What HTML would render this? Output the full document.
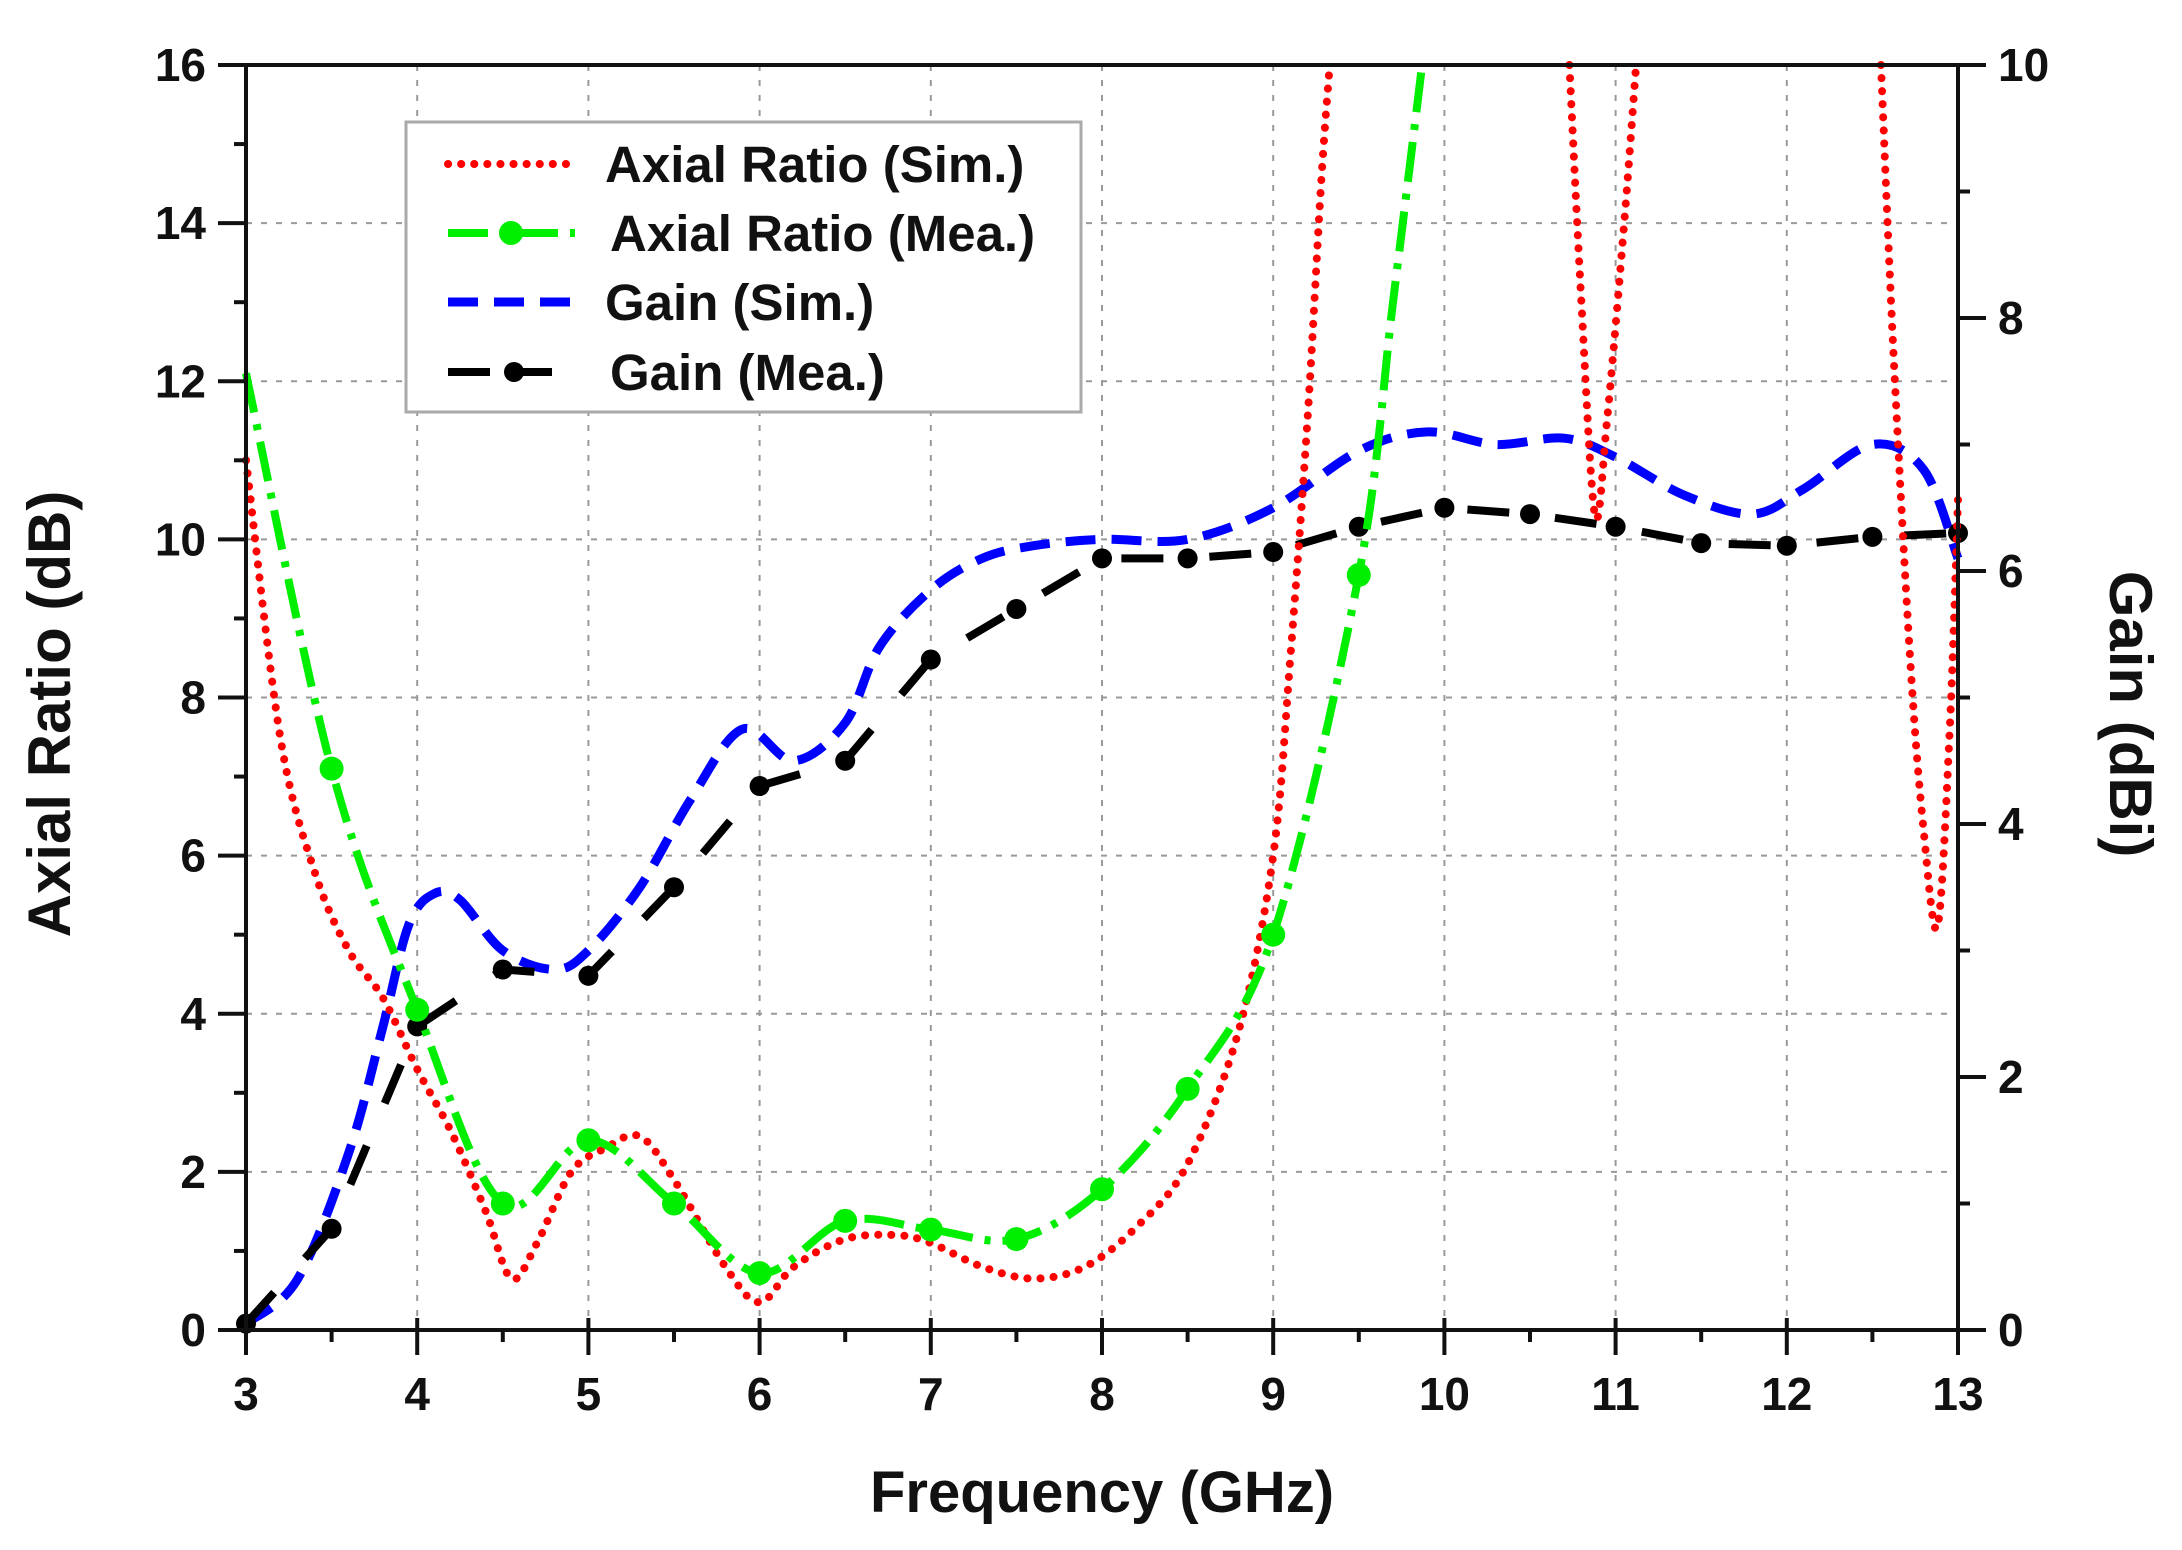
<!DOCTYPE html><html><head><meta charset="utf-8"><style>html,body{margin:0;padding:0;background:#fff}svg{display:block}text{font-family:"Liberation Sans",Arial,sans-serif;font-weight:bold;fill:#111}</style></head><body>
<svg id="s" width="2182" height="1550" viewBox="0 0 2182 1550" xmlns="http://www.w3.org/2000/svg">
<g id="grid" stroke="#999" stroke-width="2" stroke-dasharray="6 9"></g>
<g id="series"></g>
<g id="axes" stroke="#111" stroke-width="4" fill="none"></g>
<g id="labels" font-size="46"></g>
<text x="1102" y="1512" font-size="58" text-anchor="middle">Frequency (GHz)</text>
<text transform="translate(70,714) rotate(-90)" font-size="60" text-anchor="middle">Axial Ratio (dB)</text>
<text transform="translate(2110,714) rotate(90)" font-size="60" text-anchor="middle">Gain (dBi)</text>
<g id="legend"></g>
</svg>
<script>
var L=246,R=1958,T=65,B=1330;
function X(f){return L+(f-3)*(R-L)/10}
function YA(a){return B-a*(B-T)/16}
function YG(g){return B-g*(B-T)/10}
var NS="http://www.w3.org/2000/svg";
function el(p,n,a,t){var e=document.createElementNS(NS,n);for(var k in a)e.setAttribute(k,a[k]);if(t!=null)e.textContent=t;document.getElementById(p).appendChild(e);return e}
for(var f=4;f<13;f++)el("grid","line",{x1:X(f),x2:X(f),y1:T,y2:B});
for(var a=2;a<16;a+=2)el("grid","line",{x1:L,x2:R,y1:YA(a),y2:YA(a)});
el("axes","rect",{x:L,y:T,width:R-L,height:B-T});
for(var f=3;f<=13;f+=0.5){var maj=(f%1==0);el("axes","line",{x1:X(f),x2:X(f),y1:B,y2:B+(maj?25:12)});if(maj){el("axes","line",{x1:X(f),x2:X(f),y1:B,y2:B-12});el("labels","text",{x:X(f),y:B+80,"text-anchor":"middle"},f);}}
for(var a=0;a<=16;a+=1){var maj=(a%2==0);el("axes","line",{x1:L,x2:L-(maj?28:12),y1:YA(a),y2:YA(a)});if(maj)el("labels","text",{x:L-40,y:YA(a)+16,"text-anchor":"end"},a);}
for(var g=0;g<=10;g+=1){var maj=(g%2==0);el("axes","line",{x1:R,x2:R+(maj?28:12),y1:YG(g),y2:YG(g)});if(maj)el("labels","text",{x:R+40,y:YG(g)+16,"text-anchor":"start"},g);}
function path(pts,Y){var d="";pts.forEach(function(p,i){d+=(i?"L":"M")+X(p[0]).toFixed(1)+" "+Y(p[1]).toFixed(1)});return d}
function smooth(pts,Y){var P=pts.map(function(p){return[X(p[0]),Y(p[1])]});var d="M"+P[0][0]+" "+P[0][1];for(var i=0;i<P.length-1;i++){var p0=P[i-1]||P[i],p1=P[i],p2=P[i+1],p3=P[i+2]||p2;d+="C"+(p1[0]+(p2[0]-p0[0])/6).toFixed(1)+" "+(p1[1]+(p2[1]-p0[1])/6).toFixed(1)+" "+(p2[0]-(p3[0]-p1[0])/6).toFixed(1)+" "+(p2[1]-(p3[1]-p1[1])/6).toFixed(1)+" "+p2[0].toFixed(1)+" "+p2[1].toFixed(1)}return d}
var blue=[[3,0.05],[3.3,0.4],[3.6,1.4],[3.8,2.4],[3.95,3.2],[4.1,3.45],[4.25,3.4],[4.5,3.0],[4.8,2.85],[5.0,3.0],[5.3,3.5],[5.6,4.2],[5.9,4.75],[6.2,4.5],[6.5,4.8],[6.7,5.4],[7.0,5.85],[7.3,6.1],[7.6,6.2],[8,6.25],[8.5,6.25],[9,6.5],[9.5,6.95],[9.9,7.1],[10.3,7.0],[10.7,7.05],[11.0,6.9],[11.4,6.6],[11.8,6.45],[12.1,6.65],[12.5,7.0],[12.8,6.8],[13,6.1]];
el("series","path",{d:smooth(blue,YG),stroke:"#0000ff","stroke-width":9,fill:"none","stroke-dasharray":"30 16"});
var gm=[[3,0.05],[3.5,0.8],[4,2.4],[4.5,2.85],[5,2.8],[5.5,3.5],[6,4.3],[6.5,4.5],[7,5.3],[7.5,5.7],[8,6.1],[8.5,6.1],[9,6.15],[9.5,6.35],[10,6.5],[10.5,6.45],[11,6.35],[11.5,6.22],[12,6.2],[12.5,6.27],[13,6.3]];
el("series","path",{d:path(gm,YG),stroke:"#000","stroke-width":8,fill:"none","stroke-dasharray":"42 46"});
gm.forEach(function(p){el("series","circle",{cx:X(p[0]),cy:YG(p[1]),r:10,fill:"#000"})});
var r1=[[3,11],[3.2,7.5],[3.4,5.8],[3.6,4.8],[3.8,4.2],[4,3.3],[4.2,2.5],[4.4,1.5],[4.55,0.65],[4.7,1.1],[4.9,2.0],[5.1,2.3],[5.3,2.45],[5.5,1.9],[5.8,0.8],[6,0.35],[6.2,0.8],[6.5,1.15],[6.8,1.2],[7.0,1.1],[7.3,0.8],[7.6,0.65],[7.9,0.8],[8.2,1.3],[8.5,2.1],[8.8,3.8],[9.0,6.0],[9.1,8.5],[9.2,11.5],[9.28,14.5],[9.33,16]];
var rs={stroke:"#ff0000","stroke-width":8,fill:"none","stroke-dasharray":"0.1 13","stroke-linecap":"round"};
function ad(p,d){var o={};for(var k in p)o[k]=p[k];o.d=d;return o}
el("series","path",ad(rs,smooth(r1,YA)));
el("series","path",ad(rs,smooth([[10.73,16],[10.8,13],[10.88,10.3],[10.95,11.5],[11.05,14],[11.12,16]],YA)));
el("series","path",ad(rs,smooth([[12.55,16],[12.62,12.5],[12.72,8.5],[12.8,6.3],[12.88,5.1],[12.95,7.5],[13,10.5]],YA)));
var gr=[[3,12.1],[3.5,7.1],[4,4.05],[4.5,1.6],[5,2.4],[5.5,1.6],[6,0.72],[6.5,1.38],[7,1.27],[7.5,1.15],[8,1.78],[8.5,3.05],[9,5.0],[9.5,9.55],[9.7,13],[9.87,16]];
el("series","path",{d:smooth(gr,YA),stroke:"#00ee00","stroke-width":8,fill:"none","stroke-dasharray":"40 12 6 12"});
gr.slice(1,14).forEach(function(p){el("series","circle",{cx:X(p[0]),cy:YA(p[1]),r:12,fill:"#00ee00"})});
el("legend","rect",{x:406,y:122,width:675,height:290,fill:"#fff",stroke:"#aaa","stroke-width":3});
var ly=[164,233,302,372];
el("legend","line",{x1:448,x2:570,y1:ly[0],y2:ly[0],stroke:"#f00","stroke-width":8,"stroke-dasharray":"0.1 13","stroke-linecap":"round"});
el("legend","line",{x1:448,x2:575,y1:ly[1],y2:ly[1],stroke:"#00ee00","stroke-width":8,"stroke-dasharray":"40 12 6 12"});
el("legend","circle",{cx:511,cy:ly[1],r:12,fill:"#00ee00"});
el("legend","line",{x1:448,x2:575,y1:ly[2],y2:ly[2],stroke:"#00f","stroke-width":9,"stroke-dasharray":"30 16"});
el("legend","line",{x1:448,x2:570,y1:ly[3],y2:ly[3],stroke:"#000","stroke-width":8,"stroke-dasharray":"42 20"});
el("legend","circle",{cx:514,cy:ly[3],r:10,fill:"#000"});
var lt=["Axial Ratio (Sim.)","Axial Ratio (Mea.)","Gain (Sim.)","Gain (Mea.)"],lx=[605,610,605,610];
lt.forEach(function(t,i){el("legend","text",{x:lx[i],y:ly[i]+18,"font-size":51},t)});
</script>
</body></html>
